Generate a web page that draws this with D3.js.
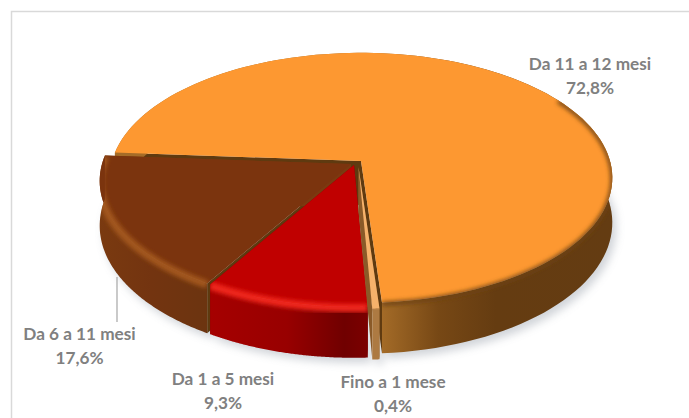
<!DOCTYPE html>
<html>
<head>
<meta charset="utf-8">
<script src="https://d3js.org/d3.v7.min.js"></script>
<style>
body { margin: 0; background: #fff; }
svg { display: block; }
text { font-family: Lato, sans-serif; font-weight: 700; font-size: 17.2px; fill: #808080; text-anchor: middle; }
</style>
</head>
<body>
<svg id="chart" width="689" height="418"></svg>
<script>
// data, in drawing order
let categories = ["Da 11 a 12 mesi", "Da 6 a 11 mesi", "Da 1 a 5 mesi", "Fino a 1 mese"];
let shares = [72.8, 17.6, 9.3, 0.4];
let shareLabels = ["72,8%", "17,6%", "9,3%", "0,4%"];
// d3.pie walks clockwise, so the slices are listed as orange, light strip, red, brown
let pieOrder = [0, 3, 2, 1];
let paintOrder = [0, 1, 2, 3];

let width = 689, height = 418;
let svg = d3.select("#chart");

// perspective of the disc
let cx = 361, cy = 161;
let radius = 249, tilt = 0.493, persp = 0.135, thickness = 44;
let firstAngle = 274 * Math.PI / 180;

let sliceLook = {
    0: { top: "#fd9831", wall: "url(#wall-orange)", cut: "#5f3a10", cutEnd: "#5f3a10", rim: "#6e4212", rimWidth: 4, rimFrom: 0.55, dx: 0, dy: 0 },
    1: { top: "#7b340e", wall: "url(#wall-brown)", cut: "#5e3a0f", cutEnd: "#7a3a10", rim: "#a2561f", rimWidth: 8, rimFrom: 0, dx: -10, dy: 3 },
    2: { top: "#c00000", wall: "url(#wall-red)", cut: "#7a0000", cutEnd: "#7a0000", rim: "#f0281e", rimWidth: 8, rimFrom: 0, dx: -7, dy: 4 },
    3: { top: "#f6b26b", wall: "#ad7a42", cut: "#8a5a28", cutEnd: "#8a5a28", rim: "#f6b26b", rimWidth: 1, rimFrom: 0, dx: -2.5, dy: 6 }
};
let labelPos = {
    0: [590, 70],
    1: [79.5, 340],
    2: [223, 385],
    3: [393, 388]
};

function project(angle, r, look, drop) {
    let s = 1 / (1 + persp * r * Math.cos(angle));
    return [
        cx + look.dx + radius * r * Math.sin(angle) * s,
        cy + look.dy - radius * tilt * r * Math.cos(angle) * s + drop * s
    ];
}

let pie = d3.pie().sort(null).value(d => shares[d])
    .startAngle(firstAngle).endAngle(firstAngle + 2 * Math.PI);
let arcs = {};
pie(pieOrder).forEach(d => { arcs[d.data] = d; });

let line = d3.line();

function arcPoints(d, look, drop, from) {
    return d3.range(from || 0, 1.0001, 1 / 120).map(t =>
        project(d.startAngle + t * (d.endAngle - d.startAngle), 1, look, drop));
}

let defs = svg.append("defs");
function gradient(id, x1, x2, stops) {
    let g = defs.append("linearGradient").attr("id", id).attr("gradientUnits", "userSpaceOnUse")
        .attr("x1", x1).attr("x2", x2).attr("y1", 0).attr("y2", 0);
    stops.forEach(s => g.append("stop").attr("offset", s[0]).attr("stop-color", s[1]));
}
gradient("wall-orange", 380, 612, [[0, "#a56c28"], [0.25, "#774815"], [0.5, "#653c11"], [1, "#643c12"]]);
gradient("wall-brown", 98, 205, [[0, "#7a3a10"], [0.5, "#733410"], [1, "#6c3410"]]);
gradient("wall-red", 205, 369, [[0, "#a60000"], [0.5, "#980000"], [0.85, "#700000"], [1, "#7c0000"]]);

defs.append("filter").attr("id", "soft").attr("x", "-20%").attr("y", "-20%").attr("width", "140%").attr("height", "140%")
    .append("feGaussianBlur").attr("stdDeviation", 4.5);
defs.append("filter").attr("id", "bevel").attr("x", "-20%").attr("y", "-20%").attr("width", "140%").attr("height", "140%")
    .append("feGaussianBlur").attr("stdDeviation", 2.2);

// chart frame
svg.append("path")
    .attr("d", line([[11.5, height], [11.5, 11.5], [width, 11.5]]))
    .attr("fill", "none").attr("stroke", "#d9d9d9").attr("stroke-width", 1.5);

// soft shadow under the disc
let shadow = svg.append("g").attr("filter", "url(#soft)").attr("opacity", 0.4)
    .attr("transform", "translate(4,5)");
paintOrder.forEach(i => {
    let look = sliceLook[i];
    let center = project(0, 0, look, thickness);
    shadow.append("path")
        .attr("d", line([center].concat(arcPoints(arcs[i], look, thickness))) + "Z")
        .attr("fill", "#8c94a0");
});

// slices
paintOrder.forEach(i => {
    let d = arcs[i], look = sliceLook[i];
    let g = svg.append("g").attr("id", "slice-" + i);
    let c0 = project(0, 0, look, 0), c1 = project(0, 0, look, thickness);
    let topArc = arcPoints(d, look, 0), lowArc = arcPoints(d, look, thickness);

    // cut faces
    [[topArc[0], lowArc[0], look.cut], [topArc[topArc.length - 1], lowArc[lowArc.length - 1], look.cutEnd]].forEach(e => {
        g.append("path")
            .attr("d", line([c0, e[0], e[1], c1]) + "Z")
            .attr("fill", e[2]);
    });

    // outer wall
    let wallPath = line(topArc.concat(lowArc.slice().reverse())) + "Z";
    g.append("path").attr("d", wallPath).attr("fill", look.wall);

    // top face
    let topPath = line([c0].concat(topArc)) + "Z";
    g.append("path").attr("d", topPath).attr("fill", look.top);

    // rim highlight, kept inside the slice
    defs.append("clipPath").attr("id", "clip-" + i)
        .selectAll("path").data([wallPath, topPath]).join("path").attr("d", p => p);
    g.append("g").attr("clip-path", "url(#clip-" + i + ")")
        .append("path")
        .attr("d", line(arcPoints(d, look, 1, look.rimFrom)))
        .attr("fill", "none")
        .attr("stroke", look.rim)
        .attr("stroke-width", look.rimWidth)
        .attr("filter", "url(#bevel)");
});

// leader line for the brown slice
svg.append("line")
    .attr("x1", 117).attr("x2", 117).attr("y1", 277).attr("y2", 322)
    .attr("stroke", "#a6a6a6").attr("stroke-width", 1.2);

// labels
categories.forEach((c, i) => {
    let t = svg.append("text").attr("x", labelPos[i][0]).attr("y", labelPos[i][1]);
    t.append("tspan").attr("x", labelPos[i][0]).text(c);
    t.append("tspan").attr("x", labelPos[i][0]).attr("dy", 23.5).text(shareLabels[i]);
});
</script>
</body>
</html>
